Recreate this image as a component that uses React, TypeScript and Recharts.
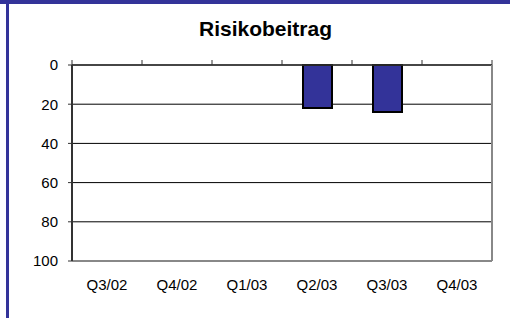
import React from 'react';
import { BarChart, Bar, XAxis, YAxis, CartesianGrid } from 'recharts';

// Quartale und Werte (Risikobeitrag)
const quarters = ['Q3/02', 'Q4/02', 'Q1/03', 'Q2/03', 'Q3/03', 'Q4/03'];
const risiko = [0, 0, 0, 22, 24, 0];
const yTicks = [0, 20, 40, 60, 80, 100];
const gridValues = [0, 20, 40, 60, 80];
const boundaryTicks = [0, 1, 2, 3, 4, 5, 6];

// pos = Kategorienmitte auf der oberen Zahlenachse
const data = quarters.map((q, i) => ({ quarter: q, pos: i + 0.5, risiko: risiko[i] }));

const FONT = '"Liberation Sans", Arial, sans-serif';

const App: React.FC = () => {
  return (
    <div style={{ position: 'absolute', left: 0, top: 0, width: 510, height: 318, background: '#fff', fontFamily: FONT }}>
      {/* Rahmen */}
      <div style={{ position: 'absolute', left: 0, top: 0, width: 510, height: 4, background: '#333399' }} />
      <div style={{ position: 'absolute', left: 6, top: 0, width: 3, height: 318, background: '#333399' }} />
      <div
        style={{
          position: 'absolute',
          left: 0,
          width: 531,
          top: 17,
          textAlign: 'center',
          fontSize: 21,
          fontWeight: 'bold',
          lineHeight: '24px',
          color: '#000'
        }}
      >
        Risikobeitrag
      </div>
      <div style={{ position: 'absolute', left: 0, top: 0 }}>
        <BarChart width={510} height={318} data={data} margin={{ top: 60, right: 17, bottom: 0, left: 0 }}>
          <CartesianGrid
            horizontal
            vertical={false}
            horizontalValues={gridValues}
            stroke="#000"
            yAxisId="left"
            xAxisId="cat"
          />
          <XAxis
            xAxisId="cat"
            dataKey="quarter"
            orientation="bottom"
            height={57}
            axisLine={{ stroke: '#888', strokeWidth: 2 }}
            tickLine={false}
            tickSize={0}
            tickMargin={18}
            interval={0}
            tick={{ fill: '#000', fontSize: 15, fontFamily: FONT }}
          />
          <XAxis
            xAxisId="top"
            dataKey="pos"
            type="number"
            orientation="top"
            domain={[0, 6]}
            ticks={boundaryTicks}
            interval={0}
            allowDataOverflow
            height={5}
            tick={() => <g />}
            tickSize={5}
            axisLine={{ stroke: '#333', strokeWidth: 1.5 }}
            tickLine={{ stroke: '#333' }}
          />
          <YAxis
            yAxisId="left"
            reversed
            domain={[0, 100]}
            ticks={yTicks}
            width={72}
            tickSize={4}
            tickMargin={10}
            axisLine={{ stroke: '#333', strokeWidth: 2 }}
            tickLine={{ stroke: '#333' }}
            tick={{ fill: '#000', fontSize: 15, fontFamily: FONT }}
          />
          <YAxis
            yAxisId="right"
            orientation="right"
            reversed
            domain={[0, 100]}
            ticks={yTicks}
            width={1}
            tick={false}
            tickLine={false}
            axisLine={{ stroke: '#888', strokeWidth: 2 }}
          />
          <Bar
            dataKey="risiko"
            xAxisId="cat"
            yAxisId="left"
            barSize={29}
            fill="#333399"
            stroke="#000"
            strokeWidth={2}
            isAnimationActive={false}
          />
        </BarChart>
      </div>
    </div>
  );
};

export default App;
